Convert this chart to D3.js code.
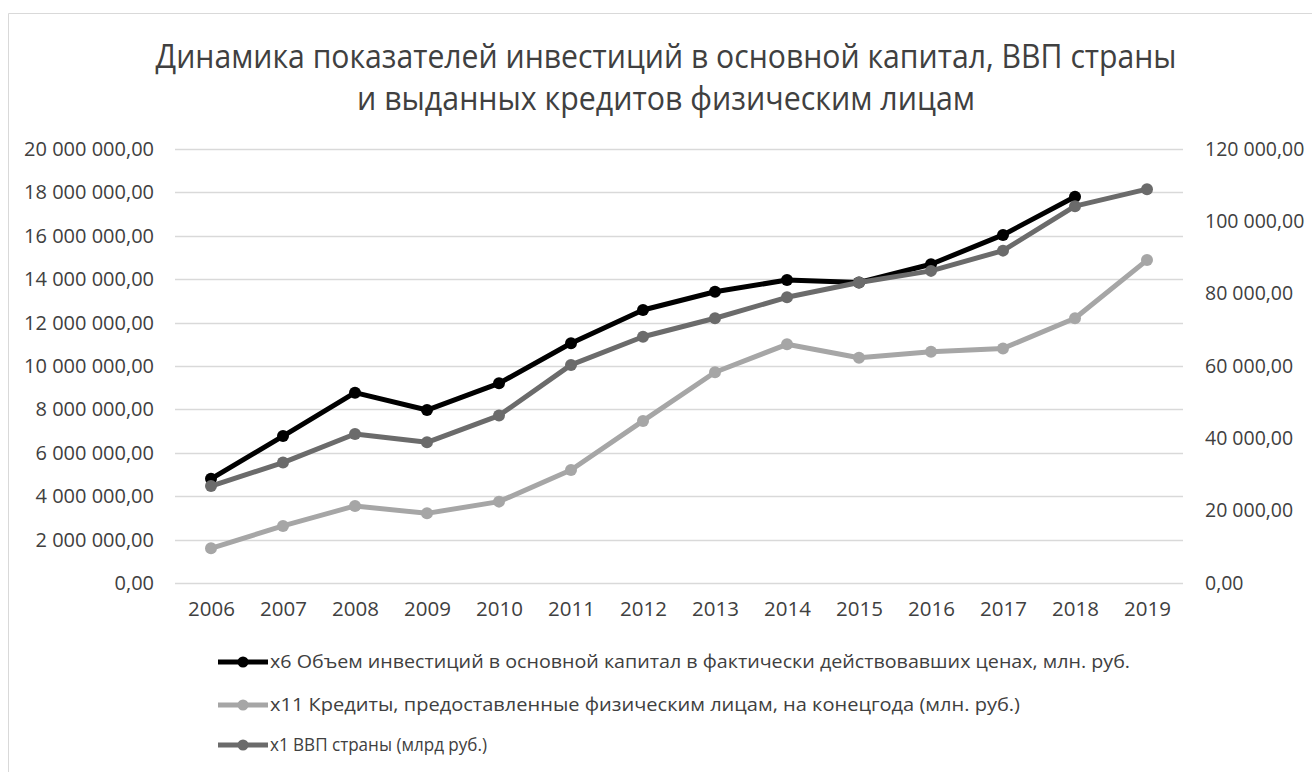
<!DOCTYPE html>
<html>
<head>
<meta charset="utf-8">
<script src="https://cdn.jsdelivr.net/npm/d3@7"></script>
<style>
  html, body { margin: 0; padding: 0; background: #ffffff; }
  svg { display: block; }
  text { font-family: "Open Sans", "Noto Sans", sans-serif; }
</style>
</head>
<body>
<svg id="chart" width="1312" height="772"></svg>
<script>
// Years on the category axis
const years = ["2006","2007","2008","2009","2010","2011","2012","2013","2014","2015","2016","2017","2018","2019"];

// x6: fixed-capital investment, mln rub (left axis); no value for 2019
const investments = [4800000, 6770000, 8770000, 7970000, 9200000, 11050000, 12580000, 13420000, 13960000, 13850000, 14690000, 16040000, 17800000, null];

// x11: loans to individuals at year end, mln rub (left axis)
const credits = [1600000, 2630000, 3550000, 3210000, 3750000, 5210000, 7470000, 9710000, 11000000, 10380000, 10660000, 10810000, 12200000, 14880000];

// x1: GDP, bln rub (right axis)
const gdp = [26800, 33300, 41200, 38900, 46300, 60300, 68100, 73200, 79000, 83100, 86300, 91900, 104200, 108900];

const leftTicks = [0, 2000000, 4000000, 6000000, 8000000, 10000000, 12000000, 14000000, 16000000, 18000000, 20000000];
const rightTicks = [0, 20000, 40000, 60000, 80000, 100000, 120000];

const titleLines = [
  "Динамика показателей инвестиций в основной капитал, ВВП страны",
  "и выданных кредитов физическим лицам"
];

const seriesNames = [
  "x6 Объем инвестиций в основной капитал в фактически действовавших ценах, млн. руб.",
  "x11 Кредиты, предоставленные физическим лицам, на конецгода (млн. руб.)",
  "x1 ВВП страны (млрд руб.)"
];

const svg = d3.select("#chart");

// chart frame
svg.append("path")
  .attr("d", "M8.5,772 L8.5,13.5 L1312,13.5")
  .attr("fill", "none")
  .attr("stroke", "#d9d9d9")
  .attr("stroke-width", 1);

const plotLeft = 175, plotRight = 1183, plotTop = 149, plotBottom = 583;

const x = d3.scalePoint().domain(years).range([plotLeft, plotRight]).padding(0.5);
const yL = d3.scaleLinear().domain([0, 20000000]).range([plotBottom, plotTop]);
const yR = d3.scaleLinear().domain([0, 120000]).range([plotBottom, plotTop]);

const fmt = v => {
  const s = d3.format(",.2f")(v);
  return s.replace(/,/g, " ").replace(".", ",");
};

// title
const title = svg.append("g").attr("fill", "#404040");
const titleWidths = [1021, 618];
titleLines.forEach((t, i) => {
  title.append("text")
    .attr("x", 666)
    .attr("y", [68, 110][i])
    .attr("text-anchor", "middle")
    .attr("font-size", 32)
    .attr("textLength", titleWidths[i])
    .attr("lengthAdjust", "spacingAndGlyphs")
    .text(t);
});

// gridlines
svg.append("g")
  .selectAll("line")
  .data(leftTicks)
  .join("line")
  .attr("x1", plotLeft)
  .attr("x2", plotRight)
  .attr("y1", d => Math.round(yL(d)) + 0.5)
  .attr("y2", d => Math.round(yL(d)) + 0.5)
  .attr("stroke", "#d9d9d9")
  .attr("stroke-width", 1.3);

// left axis
const axL = svg.append("g")
  .attr("transform", `translate(${plotLeft - 21},0)`)
  .call(d3.axisLeft(yL).tickValues(leftTicks).tickFormat(fmt).tickSize(0).tickPadding(0));
axL.select(".domain").remove();
axL.selectAll("text")
  .attr("font-size", 20)
  .attr("fill", "#404040")
  .attr("font-family", "\"Open Sans\", sans-serif");

// right axis
const axR = svg.append("g")
  .attr("transform", `translate(${plotRight + 22},0)`)
  .call(d3.axisRight(yR).tickValues(rightTicks).tickFormat(fmt).tickSize(0).tickPadding(0));
axR.select(".domain").remove();
axR.selectAll("text")
  .attr("font-size", 19.5)
  .attr("fill", "#404040")
  .attr("font-family", "\"Open Sans\", sans-serif");

// category axis
const axX = svg.append("g")
  .attr("transform", `translate(0,${plotBottom + 18})`)
  .call(d3.axisBottom(x).tickSize(0).tickPadding(0));
axX.select(".domain").remove();
axX.selectAll("text")
  .attr("font-size", 20.5)
  .attr("fill", "#404040")
  .attr("font-family", "\"Open Sans\", sans-serif");

// series
const series = [
  { name: seriesNames[0], values: investments, scale: yL, color: "#000000" },
  { name: seriesNames[1], values: credits, scale: yL, color: "#a6a6a6" },
  { name: seriesNames[2], values: gdp, scale: yR, color: "#6b6b6b" }
];

series.forEach(s => {
  const pts = years.map((yr, i) => ({ yr, v: s.values[i] })).filter(d => d.v != null);
  const line = d3.line().x(d => x(d.yr)).y(d => s.scale(d.v));
  const g = svg.append("g");
  g.append("path")
    .datum(pts)
    .attr("d", line)
    .attr("fill", "none")
    .attr("stroke", s.color)
    .attr("stroke-width", 5)
    .attr("stroke-linejoin", "round")
    .attr("stroke-linecap", "round");
  g.selectAll("circle")
    .data(pts)
    .join("circle")
    .attr("cx", d => x(d.yr))
    .attr("cy", d => s.scale(d.v))
    .attr("r", 6)
    .attr("fill", s.color);
});

// legend
const legendY = [662, 705, 745];
const legendWidths = [860, 750, 217];
series.forEach((s, i) => {
  const g = svg.append("g").attr("transform", `translate(0,${legendY[i]})`);
  g.append("line")
    .attr("x1", 218).attr("x2", 268)
    .attr("y1", 0).attr("y2", 0)
    .attr("stroke", s.color)
    .attr("stroke-width", 5);
  g.append("circle")
    .attr("cx", 243).attr("cy", 0).attr("r", 5.5)
    .attr("fill", s.color);
  g.append("text")
    .attr("x", 270)
    .attr("y", 0)
    .attr("dy", "0.35em")
    .attr("font-size", 18.5)
    .attr("fill", "#404040")
    .attr("textLength", legendWidths[i])
    .attr("lengthAdjust", "spacingAndGlyphs")
    .text(s.name);
});
</script>
</body>
</html>
